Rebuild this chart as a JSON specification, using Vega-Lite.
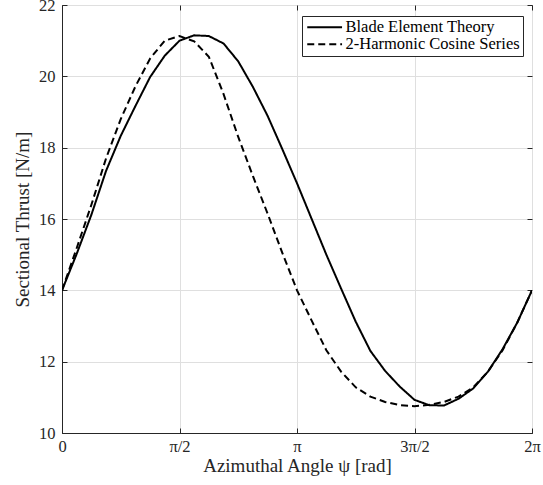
{
  "$schema": "https://vega.github.io/schema/vega-lite/v6.json",
  "width": 470,
  "height": 428,
  "autosize": "none",
  "padding": {"left": 62, "top": 5, "right": 11, "bottom": 52},
  "background": "white",
  "config": {
    "view": {"stroke": "#262626", "strokeWidth": 1},
    "font": "Liberation Serif",
    "axis": {
      "labelFont": "Liberation Serif",
      "titleFont": "Liberation Serif",
      "labelColor": "#262626",
      "titleColor": "#262626",
      "labelFontSize": 16.5,
      "titleFontSize": 19,
      "titleFontWeight": "normal",
      "gridColor": "#dfdfdf",
      "gridWidth": 1,
      "domainColor": "#262626",
      "tickColor": "#262626"
    },
    "legend": {
      "labelFont": "Liberation Serif",
      "labelFontSize": 16.5,
      "labelColor": "#000000"
    }
  },
  "data": {
    "values": [
      {"psi": 0.000, "T": 14.00, "series": "Blade Element Theory"},
      {"psi": 0.196, "T": 15.02, "series": "Blade Element Theory"},
      {"psi": 0.393, "T": 16.12, "series": "Blade Element Theory"},
      {"psi": 0.589, "T": 17.35, "series": "Blade Element Theory"},
      {"psi": 0.785, "T": 18.33, "series": "Blade Element Theory"},
      {"psi": 0.982, "T": 19.17, "series": "Blade Element Theory"},
      {"psi": 1.178, "T": 19.98, "series": "Blade Element Theory"},
      {"psi": 1.374, "T": 20.58, "series": "Blade Element Theory"},
      {"psi": 1.571, "T": 21.00, "series": "Blade Element Theory"},
      {"psi": 1.767, "T": 21.15, "series": "Blade Element Theory"},
      {"psi": 1.963, "T": 21.13, "series": "Blade Element Theory"},
      {"psi": 2.160, "T": 20.92, "series": "Blade Element Theory"},
      {"psi": 2.356, "T": 20.42, "series": "Blade Element Theory"},
      {"psi": 2.553, "T": 19.70, "series": "Blade Element Theory"},
      {"psi": 2.749, "T": 18.89, "series": "Blade Element Theory"},
      {"psi": 2.945, "T": 17.96, "series": "Blade Element Theory"},
      {"psi": 3.142, "T": 17.00, "series": "Blade Element Theory"},
      {"psi": 3.338, "T": 16.00, "series": "Blade Element Theory"},
      {"psi": 3.534, "T": 15.00, "series": "Blade Element Theory"},
      {"psi": 3.731, "T": 14.05, "series": "Blade Element Theory"},
      {"psi": 3.927, "T": 13.12, "series": "Blade Element Theory"},
      {"psi": 4.123, "T": 12.30, "series": "Blade Element Theory"},
      {"psi": 4.320, "T": 11.74, "series": "Blade Element Theory"},
      {"psi": 4.516, "T": 11.30, "series": "Blade Element Theory"},
      {"psi": 4.712, "T": 10.93, "series": "Blade Element Theory"},
      {"psi": 4.909, "T": 10.78, "series": "Blade Element Theory"},
      {"psi": 5.105, "T": 10.77, "series": "Blade Element Theory"},
      {"psi": 5.301, "T": 10.96, "series": "Blade Element Theory"},
      {"psi": 5.498, "T": 11.25, "series": "Blade Element Theory"},
      {"psi": 5.694, "T": 11.72, "series": "Blade Element Theory"},
      {"psi": 5.890, "T": 12.35, "series": "Blade Element Theory"},
      {"psi": 6.087, "T": 13.10, "series": "Blade Element Theory"},
      {"psi": 6.283, "T": 14.00, "series": "Blade Element Theory"},
      {"psi": 0.000, "T": 14.00, "series": "2-Harmonic Cosine Series"},
      {"psi": 0.196, "T": 15.18, "series": "2-Harmonic Cosine Series"},
      {"psi": 0.393, "T": 16.40, "series": "2-Harmonic Cosine Series"},
      {"psi": 0.589, "T": 17.70, "series": "2-Harmonic Cosine Series"},
      {"psi": 0.785, "T": 18.80, "series": "2-Harmonic Cosine Series"},
      {"psi": 0.982, "T": 19.72, "series": "2-Harmonic Cosine Series"},
      {"psi": 1.178, "T": 20.50, "series": "2-Harmonic Cosine Series"},
      {"psi": 1.374, "T": 21.00, "series": "2-Harmonic Cosine Series"},
      {"psi": 1.571, "T": 21.13, "series": "2-Harmonic Cosine Series"},
      {"psi": 1.767, "T": 20.98, "series": "2-Harmonic Cosine Series"},
      {"psi": 1.963, "T": 20.55, "series": "2-Harmonic Cosine Series"},
      {"psi": 2.160, "T": 19.50, "series": "2-Harmonic Cosine Series"},
      {"psi": 2.356, "T": 18.30, "series": "2-Harmonic Cosine Series"},
      {"psi": 2.553, "T": 17.20, "series": "2-Harmonic Cosine Series"},
      {"psi": 2.749, "T": 16.15, "series": "2-Harmonic Cosine Series"},
      {"psi": 2.945, "T": 15.05, "series": "2-Harmonic Cosine Series"},
      {"psi": 3.142, "T": 14.00, "series": "2-Harmonic Cosine Series"},
      {"psi": 3.338, "T": 13.15, "series": "2-Harmonic Cosine Series"},
      {"psi": 3.534, "T": 12.32, "series": "2-Harmonic Cosine Series"},
      {"psi": 3.731, "T": 11.72, "series": "2-Harmonic Cosine Series"},
      {"psi": 3.927, "T": 11.28, "series": "2-Harmonic Cosine Series"},
      {"psi": 4.123, "T": 11.02, "series": "2-Harmonic Cosine Series"},
      {"psi": 4.320, "T": 10.87, "series": "2-Harmonic Cosine Series"},
      {"psi": 4.516, "T": 10.78, "series": "2-Harmonic Cosine Series"},
      {"psi": 4.712, "T": 10.75, "series": "2-Harmonic Cosine Series"},
      {"psi": 4.909, "T": 10.79, "series": "2-Harmonic Cosine Series"},
      {"psi": 5.105, "T": 10.87, "series": "2-Harmonic Cosine Series"},
      {"psi": 5.301, "T": 11.02, "series": "2-Harmonic Cosine Series"},
      {"psi": 5.498, "T": 11.28, "series": "2-Harmonic Cosine Series"},
      {"psi": 5.694, "T": 11.72, "series": "2-Harmonic Cosine Series"},
      {"psi": 5.890, "T": 12.32, "series": "2-Harmonic Cosine Series"},
      {"psi": 6.087, "T": 13.10, "series": "2-Harmonic Cosine Series"},
      {"psi": 6.283, "T": 14.00, "series": "2-Harmonic Cosine Series"}
    ]
  },
  "layer": [
    {
      "mark": {"type": "line", "color": "#000000", "strokeWidth": 2, "clip": true},
      "encoding": {
        "x": {
          "field": "psi", "type": "quantitative",
          "scale": {"domain": [0, 6.2832], "nice": false, "zero": false},
          "axis": {
            "values": [0, 1.5708, 3.1416, 4.7124, 6.2832],
            "labelExpr": "datum.value < 0.1 ? '0' : datum.value < 2 ? 'π/2' : datum.value < 4 ? 'π' : datum.value < 5 ? '3π/2' : '2π'",
            "title": "Azimuthal Angle ψ [rad]",
            "tickSize": -5,
            "labelPadding": 10,
            "titlePadding": 2,
            "labelFlush": false,
            "labelOverlap": false,
            "grid": true
          }
        },
        "y": {
          "field": "T", "type": "quantitative",
          "scale": {"domain": [10, 22], "nice": false, "zero": false},
          "axis": {
            "values": [10, 12, 14, 16, 18, 20, 22],
            "title": "Sectional Thrust [N/m]",
            "tickSize": -5,
            "labelPadding": 12,
            "titlePadding": 6,
            "labelFlush": false,
            "grid": true
          }
        },
        "strokeDash": {
          "field": "series", "type": "nominal",
          "scale": {
            "domain": ["Blade Element Theory", "2-Harmonic Cosine Series"],
            "range": [[1, 0], [7, 4]]
          },
          "legend": {
            "title": null,
            "orient": "none",
            "legendX": 240,
            "legendY": 11,
            "direction": "vertical",
            "symbolType": "M-1,0H4.8",
            "symbolSize": 144,
            "symbolStrokeWidth": 2,
            "symbolStrokeColor": "#000000",
            "labelOffset": 24,
            "labelLimit": 300,
            "rowPadding": -7,
            "padding": 3,
            "strokeColor": "#262626",
            "fillColor": "#ffffff",
            "cornerRadius": 0
          }
        }
      }
    },
    {
      "mark": {"type": "line", "strokeOpacity": 0},
      "encoding": {
        "x": {
          "field": "psi", "type": "quantitative",
          "axis": {
            "orient": "top",
            "values": [0, 1.5708, 3.1416, 4.7124, 6.2832],
            "labels": false, "title": null, "grid": false, "domain": false,
            "tickSize": -5
          }
        },
        "y": {
          "field": "T", "type": "quantitative",
          "axis": {
            "orient": "right",
            "values": [10, 12, 14, 16, 18, 20, 22],
            "labels": false, "title": null, "grid": false, "domain": false,
            "tickSize": -5
          }
        },
        "detail": {"field": "series", "type": "nominal"}
      }
    }
  ],
  "resolve": {"axis": {"x": "independent", "y": "independent"}}
}
